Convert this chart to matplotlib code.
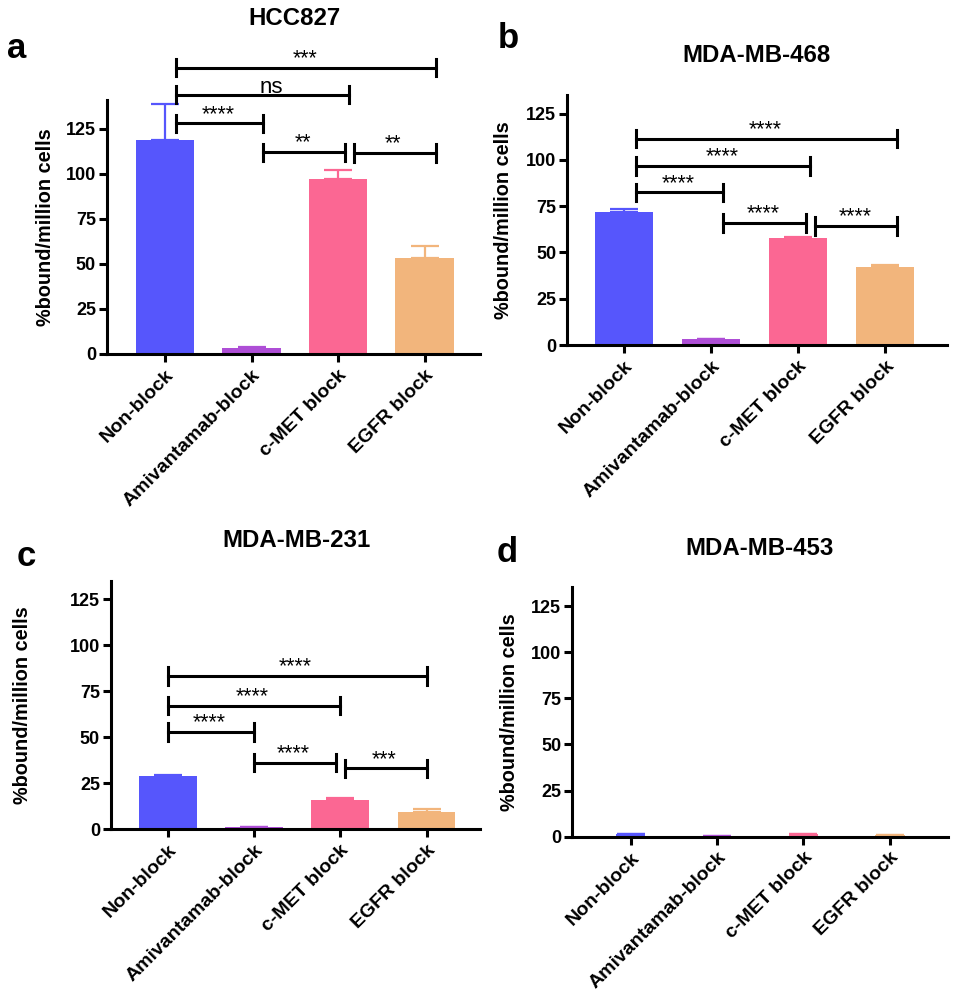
import matplotlib.pyplot as plt
import numpy as np

plt.rcParams['font.family'] = ['Liberation Sans', 'DejaVu Sans']
plt.rcParams['font.weight'] = 'bold'

# данные
groups = ['Non-block', 'Amivantamab-block', 'c-MET block', 'EGFR block']
colors = ['#5656FC', '#AE4ED6', '#FB6793', '#F2B57C']
cells = ['HCC827', 'MDA-MB-468', 'MDA-MB-231', 'MDA-MB-453']
letters = ['a', 'b', 'c', 'd']

means_a = [119, 3.2, 97, 53.5]
err_a = [20, 0.8, 5, 6.5]
means_b = [71.8, 3.2, 57.6, 42.3]
err_b = [1.7, 0.1, 0.9, 0.7]
means_c = [28.8, 1.0, 16.1, 9.6]
err_c = [0.7, 0.2, 0.7, 1.4]
means_d = [1.5, 0.2, 1.4, 0.8]
err_d = [0.1, 0.05, 0.1, 0.1]

# сравнения: (группа 1, группа 2, высота скобки, подпись)
sig_a = [(0, 3, 159, '***'), (0, 2, 144, 'ns'), (0, 1, 128, '****'),
         (1, 2, 112, '**'), (2, 3, 111.5, '**')]
sig_b = [(0, 3, 111.5, '****'), (0, 2, 96.8, '****'), (0, 1, 82.4, '****'),
         (1, 2, 66, '****'), (2, 3, 64.2, '****')]
sig_c = [(0, 3, 83.3, '****'), (0, 2, 67.2, '****'), (0, 1, 52.7, '****'),
         (1, 2, 36.2, '****'), (2, 3, 33.1, '***')]
sig_d = []

# раскладка панелей (в пикселях): left, right, y0, top
W, H = 957, 998
boxes = [(107, 480, 354, 100), (567.3, 946.7, 345, 95),
         (111, 480, 829.3, 580.7), (572.3, 948.3, 836.7, 586.7)]
ylims = [141, 135, 135, 135.5]
xlims = [(-0.67, 3.64), (-0.655, 3.706), (-0.657, 3.62), (-0.676, 3.676)]
bar_w = [0.68, 0.67, 0.67, 0.34]
ylab_off = [52, 54, 79, 53]
sig_shift = [0.13, 0.14, 0.0, 0.0]
title_pos = [(294, 25), (756, 62), (297, 547), (760, 555)]
letter_pos = [(7, 58), (498, 48), (17, 566), (497, 562)]

all_means = [means_a, means_b, means_c, means_d]
all_err = [err_a, err_b, err_c, err_d]
all_sig = [sig_a, sig_b, sig_c, sig_d]

fig = plt.figure(figsize=(W / 100, H / 100), dpi=100)

for k in range(4):
    l, r, y0, top = boxes[k]
    ax = fig.add_axes([l / W, 1 - y0 / H, (r - l) / W, (y0 - top) / H])
    x = np.arange(4)
    ax.bar(x, all_means[k], width=bar_w[k], color=colors, zorder=2)
    for i in range(4):
        ax.errorbar(x[i], all_means[k][i], yerr=[[0], [all_err[k][i]]], fmt='none',
                    ecolor=colors[i], elinewidth=1.6, capsize=10, capthick=1.6, zorder=1)

    ax.set_xlim(*xlims[k])
    ax.set_ylim(0, ylims[k])
    ax.set_yticks([0, 25, 50, 75, 100, 125])
    ax.set_xticks(x)
    ax.set_xticklabels(groups, rotation=45, ha='right', va='top',
                       rotation_mode='anchor', fontsize=14, fontweight='bold')
    ax.tick_params(axis='y', labelsize=13, width=2.2, length=6, pad=2)
    ax.tick_params(axis='x', width=2.2, length=6, pad=3)
    for s in ['top', 'right']:
        ax.spines[s].set_visible(False)
    for s in ['left', 'bottom']:
        ax.spines[s].set_linewidth(2.2)

    ax.set_ylabel('%bound/million cells', fontsize=14.3, fontweight='bold')
    ax.yaxis.set_label_coords(-ylab_off[k] / (r - l), 0.5)

    # скобки значимости
    sh = sig_shift[k]
    half = 4.8
    for (i, j, y, lab) in all_sig[k]:
        x1 = i + sh
        x2 = j + sh
        for (i2, j2, y2, _) in all_sig[k]:
            if abs(y2 - y) < 5 and j2 == i:
                x1 += 0.05
            if abs(y2 - y) < 5 and i2 == j:
                x2 -= 0.05
        ax.plot([x1, x2], [y, y], color='black', lw=2.2, clip_on=False, zorder=3)
        ax.plot([x1, x1], [y - half, y + half], color='black', lw=2.2, clip_on=False, zorder=3)
        ax.plot([x2, x2], [y - half, y + half], color='black', lw=2.2, clip_on=False, zorder=3)
        if lab == 'ns':
            ax.annotate(lab, ((x1 + x2) / 2, y), xytext=(6, 1), textcoords='offset points',
                        ha='center', va='baseline', fontsize=16, fontweight='normal',
                        annotation_clip=False)
        else:
            ax.annotate(lab, ((x1 + x2) / 2, y), xytext=(-1, -1), textcoords='offset points',
                        ha='center', va='bottom', fontsize=15.5, fontweight='normal',
                        annotation_clip=False)

    tx, ty = title_pos[k]
    fig.text(tx / W, 1 - ty / H, cells[k], ha='center', va='baseline',
             fontsize=17.3, fontweight='bold')
    lx, ly = letter_pos[k]
    fig.text(lx / W, 1 - ly / H, letters[k], ha='left', va='baseline',
             fontsize=25, fontweight='bold')

fig.savefig('out.png', dpi=100)
plt.close(fig)
